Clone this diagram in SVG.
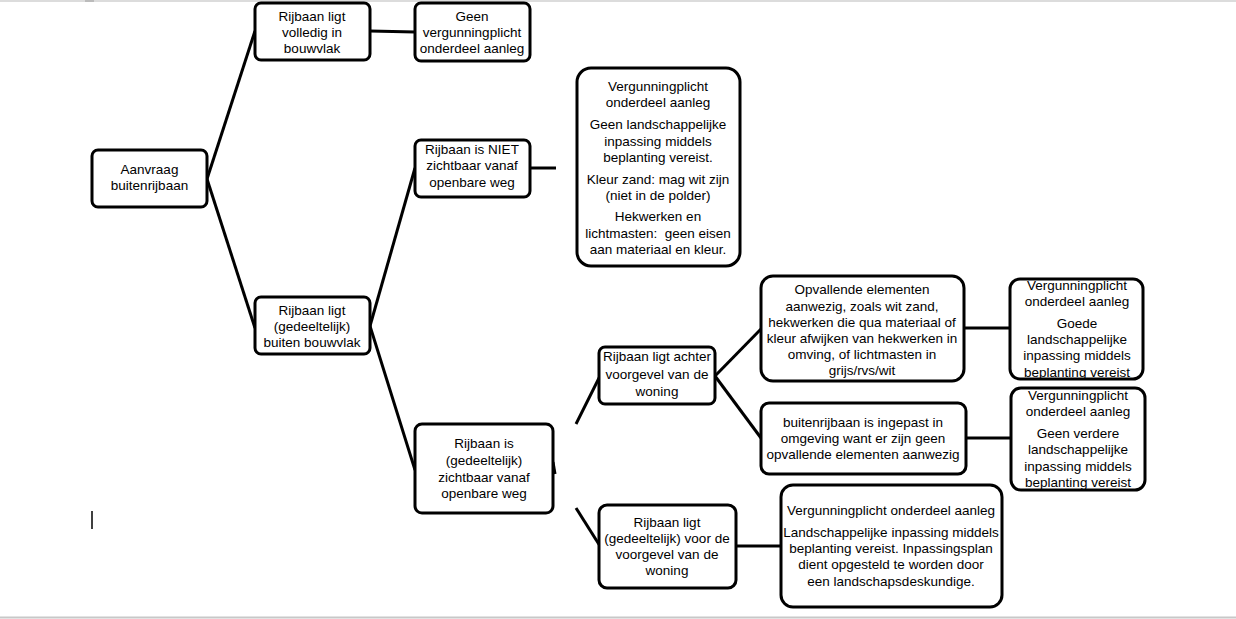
<svg xmlns="http://www.w3.org/2000/svg" width="1236" height="619" viewBox="0 0 1236 619">
<style>
.box{fill:#fff;stroke:#000;stroke-width:3}
.t{font-family:"Liberation Sans","Open Sans",sans-serif;font-size:13.5px;fill:#000;text-anchor:middle}
.c{stroke:#000;stroke-width:3;fill:none}
</style>
<rect x="0" y="0" width="1236" height="619" fill="#fff"/>
<line x1="0" y1="1" x2="1236" y2="1" stroke="#dcdcdc" stroke-width="2"/>
<line x1="0" y1="617.5" x2="1236" y2="617.5" stroke="#c8c8c8" stroke-width="2"/>
<rect x="85" y="0" width="9" height="2" fill="#bbb"/>
<line x1="92" y1="511" x2="92" y2="529" stroke="#000" stroke-width="1.5"/>
<g id="connectors">
<line class="c" x1="207" y1="179" x2="255" y2="31"/>
<line class="c" x1="207" y1="179" x2="255" y2="328"/>
<line class="c" x1="370" y1="31" x2="415" y2="32"/>
<line class="c" x1="370" y1="326" x2="415" y2="168"/>
<line class="c" x1="370" y1="326" x2="415" y2="470"/>
<line class="c" x1="530" y1="168" x2="556" y2="168"/>
<line class="c" x1="553" y1="462" x2="555" y2="474"/>
<line class="c" x1="576" y1="424" x2="600" y2="376"/>
<line class="c" x1="576" y1="508" x2="600" y2="546"/>
<line class="c" x1="715" y1="376" x2="761" y2="329"/>
<line class="c" x1="715" y1="376" x2="761" y2="438"/>
<line class="c" x1="964" y1="328" x2="1010" y2="328"/>
<line class="c" x1="966" y1="438" x2="1011" y2="438"/>
<line class="c" x1="736" y1="546" x2="781" y2="546"/>
</g>
<g id="n-aanvraag">
<rect class="box" x="92" y="150" width="115" height="57" rx="6"/>
<text class="t" x="149.5" y="174">Aanvraag</text>
<text class="t" x="149.5" y="190">buitenrijbaan</text>
</g>
<g id="n-volledig">
<rect class="box" x="255" y="3" width="115" height="57" rx="6"/>
<text class="t" x="312" y="21">Rijbaan ligt</text>
<text class="t" x="312" y="37">volledig in</text>
<text class="t" x="312" y="53">bouwvlak</text>
</g>
<g id="n-geen">
<rect class="box" x="415" y="3" width="115" height="58" rx="6"/>
<text class="t" x="472" y="21">Geen</text>
<text class="t" x="472" y="37">vergunningplicht</text>
<text class="t" x="472" y="53">onderdeel aanleg</text>
</g>
<g id="n-niet">
<rect class="box" x="415" y="140" width="115" height="57" rx="6"/>
<text class="t" x="472" y="154">Rijbaan is NIET</text>
<text class="t" x="472" y="170">zichtbaar vanaf</text>
<text class="t" x="472" y="187">openbare weg</text>
</g>
<g id="n-niet-result">
<rect class="box" x="577" y="68" width="163" height="198" rx="14"/>
<text class="t" x="658" y="91">Vergunningplicht</text>
<text class="t" x="658" y="107">onderdeel aanleg</text>
<text class="t" x="658" y="129">Geen landschappelijke</text>
<text class="t" x="658" y="146">inpassing middels</text>
<text class="t" x="658" y="162">beplanting vereist.</text>
<text class="t" x="658" y="184">Kleur zand: mag wit zijn</text>
<text class="t" x="658" y="200">(niet in de polder)</text>
<text class="t" x="658" y="221">Hekwerken en</text>
<text class="t" x="658" y="238" xml:space="preserve">lichtmasten:  geen eisen</text>
<text class="t" x="658" y="254">aan materiaal en kleur.</text>
</g>
<g id="n-buiten">
<rect class="box" x="255" y="297" width="115" height="57" rx="6"/>
<text class="t" x="312" y="315">Rijbaan ligt</text>
<text class="t" x="312" y="331">(gedeeltelijk)</text>
<text class="t" x="312" y="347">buiten bouwvlak</text>
</g>
<g id="n-zichtbaar">
<rect class="box" x="415" y="424" width="138" height="89" rx="7"/>
<text class="t" x="484" y="448">Rijbaan is</text>
<text class="t" x="484" y="465">(gedeeltelijk)</text>
<text class="t" x="484" y="482">zichtbaar vanaf</text>
<text class="t" x="484" y="498">openbare weg</text>
</g>
<g id="n-achter">
<rect class="box" x="599" y="347" width="116" height="57" rx="6"/>
<text class="t" x="657" y="361">Rijbaan ligt achter</text>
<text class="t" x="657" y="379">voorgevel van de</text>
<text class="t" x="657" y="396">woning</text>
</g>
<g id="n-opvallend">
<rect class="box" x="761" y="276" width="203" height="105" rx="12"/>
<text class="t" x="862" y="294">Opvallende elementen</text>
<text class="t" x="862" y="311">aanwezig, zoals wit zand,</text>
<text class="t" x="862" y="327">hekwerken die qua materiaal of</text>
<text class="t" x="862" y="343">kleur afwijken van hekwerken in</text>
<text class="t" x="862" y="359">omving, of lichtmasten in</text>
<text class="t" x="862" y="375">grijs/rvs/wit</text>
</g>
<g id="n-ingepast">
<rect class="box" x="761" y="403" width="205" height="71" rx="8"/>
<text class="t" x="863" y="427">buitenrijbaan is ingepast in</text>
<text class="t" x="863" y="443">omgeving want er zijn geen</text>
<text class="t" x="863" y="459">opvallende elementen  aanwezig</text>
</g>
<g id="n-goede">
<rect class="box" x="1010" y="279" width="133" height="100" rx="10"/>
<text class="t" x="1077" y="290">Vergunningplicht</text>
<text class="t" x="1077" y="306">onderdeel aanleg</text>
<text class="t" x="1077" y="328">Goede</text>
<text class="t" x="1077" y="344">landschappelijke</text>
<text class="t" x="1077" y="360">inpassing middels</text>
<text class="t" x="1077" y="377">beplanting vereist</text>
</g>
<g id="n-geen-verdere">
<rect class="box" x="1011" y="388" width="134" height="102" rx="10"/>
<text class="t" x="1078" y="400">Vergunningplicht</text>
<text class="t" x="1078" y="416">onderdeel aanleg</text>
<text class="t" x="1078" y="438">Geen verdere</text>
<text class="t" x="1078" y="454">landschappelijke</text>
<text class="t" x="1078" y="471">inpassing middels</text>
<text class="t" x="1078" y="487">beplanting vereist</text>
</g>
<g id="n-voor">
<rect class="box" x="599" y="505" width="137" height="83" rx="8"/>
<text class="t" x="667" y="527">Rijbaan ligt</text>
<text class="t" x="667" y="543">(gedeeltelijk) voor de</text>
<text class="t" x="667" y="559">voorgevel van de</text>
<text class="t" x="667" y="575">woning</text>
</g>
<g id="n-voor-result">
<rect class="box" x="781" y="485" width="221" height="122" rx="12"/>
<text class="t" x="891" y="515">Vergunningplicht onderdeel aanleg</text>
<text class="t" x="891" y="537">Landschappelijke inpassing middels</text>
<text class="t" x="891" y="553">beplanting vereist. Inpassingsplan</text>
<text class="t" x="891" y="569">dient opgesteld te worden door</text>
<text class="t" x="891" y="586">een landschapsdeskundige.</text>
</g>
</svg>
